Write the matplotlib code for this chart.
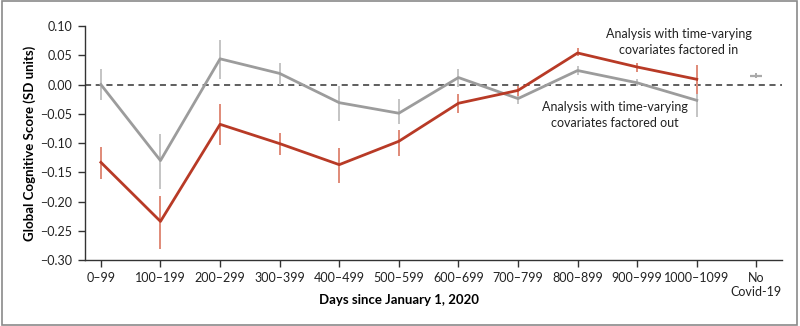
import matplotlib.pyplot as plt
from matplotlib.patches import Rectangle

plt.rcParams['font.family'] = ['Lato', 'DejaVu Sans']

categories = ['0\u201399', '100\u2013199', '200\u2013299', '300\u2013399', '400\u2013499',
              '500\u2013599', '600\u2013699', '700\u2013799', '800\u2013899', '900\u2013999',
              '1000\u20131099', 'No\nCovid-19']

# analysis with time-varying covariates factored in (red)
red_mean = [-0.133, -0.234, -0.068, -0.101, -0.137, -0.097, -0.032, -0.010, 0.054, 0.030, 0.009]
red_low = [-0.161, -0.282, -0.103, -0.121, -0.168, -0.123, -0.049, -0.019, 0.048, 0.022, -0.017]
red_high = [-0.106, -0.190, -0.034, -0.082, -0.108, -0.077, -0.017, -0.002, 0.062, 0.037, 0.034]

# analysis with time-varying covariates factored out (gray)
gray_mean = [0.000, -0.130, 0.044, 0.019, -0.031, -0.049, 0.012, -0.024, 0.024, 0.003, -0.027]
gray_low = [-0.026, -0.178, 0.010, 0.000, -0.062, -0.068, -0.005, -0.033, 0.017, -0.003, -0.055]
gray_high = [0.027, -0.085, 0.077, 0.037, -0.002, -0.024, 0.027, -0.010, 0.032, 0.009, 0.002]

# no covid-19 reference point
ref_mean = 0.015
ref_low = 0.011
ref_high = 0.019

red = '#b83a26'
red_err = '#e08a78'
gray = '#9c9c9c'
gray_err = '#c4c4c4'

fig = plt.figure(figsize=(8, 3.26), dpi=100)
ax = fig.add_axes([0.106, 0.2025, 0.8715, 0.7175])

x = list(range(len(red_mean)))

ax.axhline(0, color='#333333', lw=1.1, ls=(0, (4, 3)), zorder=1)

ax.vlines(x, gray_low, gray_high, color=gray_err, lw=1.4, zorder=2)
ax.plot(x, gray_mean, color=gray, lw=2, zorder=3)
ax.vlines(x, red_low, red_high, color=red_err, lw=1.4, zorder=4)
ax.plot(x, red_mean, color=red, lw=2, zorder=5)

ax.vlines([11], [ref_low], [ref_high], color='#aaaaaa', lw=1.4)
ax.plot([11], [ref_mean], marker='_', ms=8, mew=1.6, color='#aaaaaa')

ax.text(9.7, 0.073, 'Analysis with time-varying\ncovariates factored in',
        ha='center', va='center', fontsize=9, color='#222222', linespacing=1.45)
ax.text(8.62, -0.028, 'Analysis with time-varying\ncovariates factored out',
        ha='center', va='top', fontsize=9, color='#222222', linespacing=1.45)

ax.set_xlim(-0.27, 11.43)
ax.set_ylim(-0.30, 0.10)
ax.set_xticks(range(len(categories)))
ax.set_xticklabels(categories, fontsize=9, color='#222222')
ax.set_yticks([0.10, 0.05, 0.0, -0.05, -0.10, -0.15, -0.20, -0.25, -0.30])
ax.set_yticklabels(['0.10', '0.05', '0.00', '\u22120.05', '\u22120.10', '\u22120.15',
                    '\u22120.20', '\u22120.25', '\u22120.30'], fontsize=9, color='#222222')
ax.tick_params(length=5, width=1, color='#333333', pad=4)

for side in ['top', 'right']:
    ax.spines[side].set_visible(False)
for side in ['left', 'bottom']:
    ax.spines[side].set_color('#333333')
    ax.spines[side].set_linewidth(1)

ax.set_ylabel('Global Cognitive Score (SD units)', fontsize=9.5, fontweight='bold', labelpad=3)
ax.set_xlabel('Days since January 1, 2020', fontsize=9.5, fontweight='bold', va='center')
ax.xaxis.set_label_coords(0.45, -0.171)

fig.patches.append(Rectangle((0.002, 0.003), 0.994, 0.994, transform=fig.transFigure,
                             fill=False, edgecolor='#8a8a8a', lw=1.2))

fig.savefig('out.png', dpi=100)
